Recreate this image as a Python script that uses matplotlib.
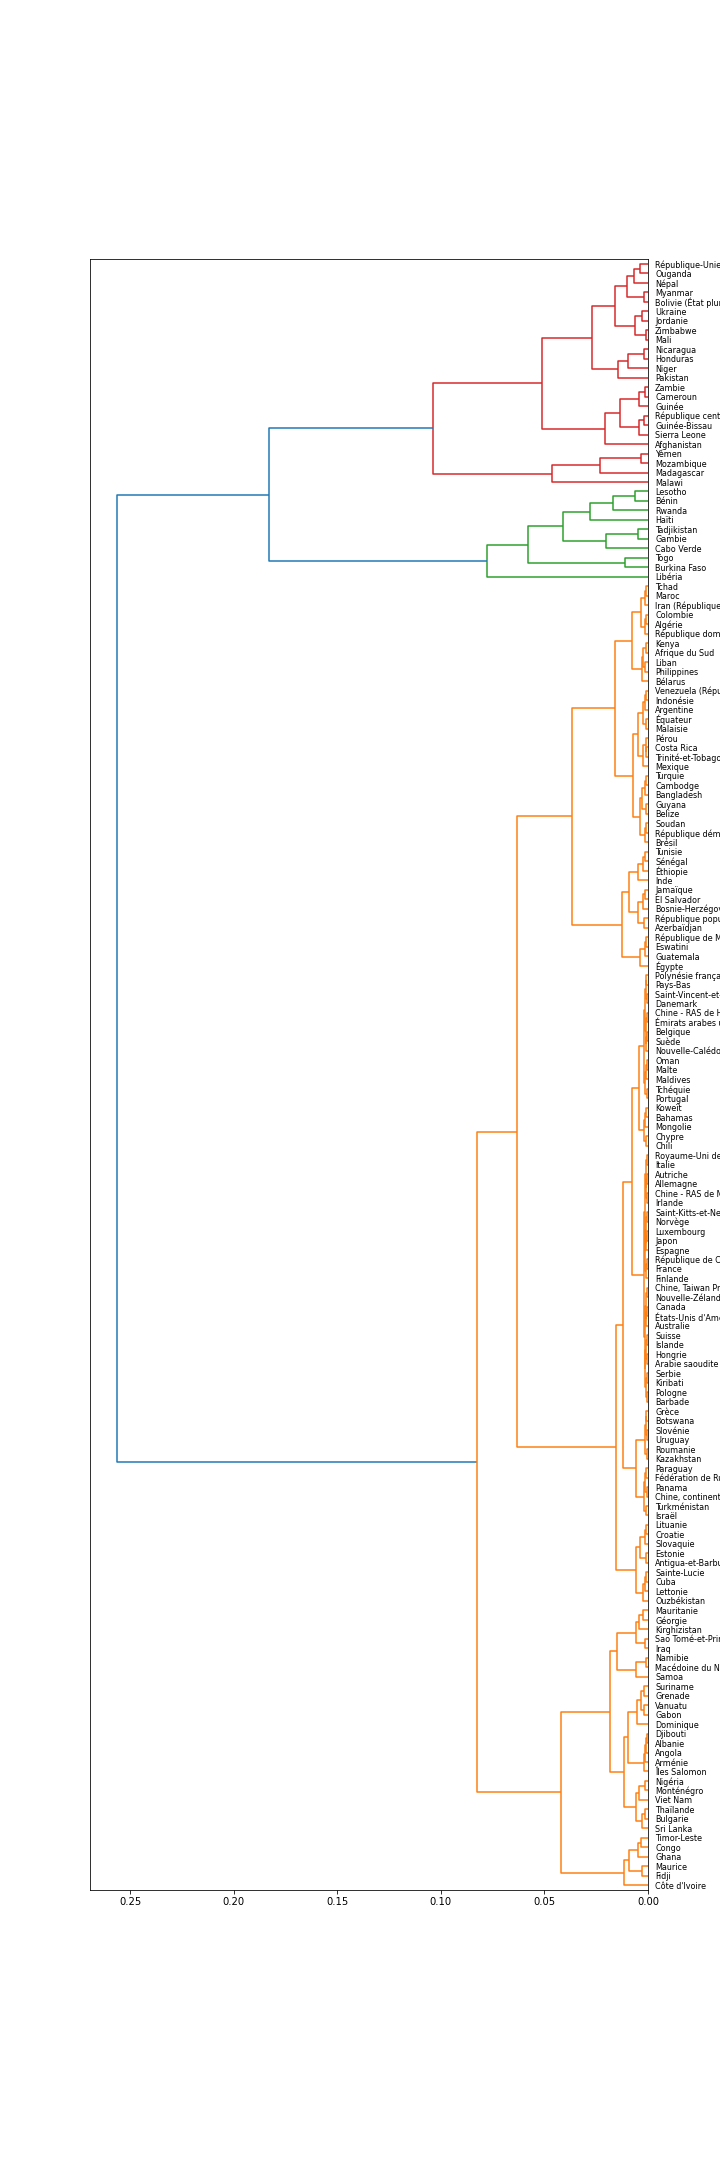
import numpy as np
import matplotlib
matplotlib.use("Agg")
import matplotlib.pyplot as plt
from matplotlib.collections import LineCollection

# leaves, top to bottom as they appear on the chart
labels = [
    "République-Unie de Tanzanie", "Ouganda", "Népal", "Myanmar",
    "Bolivie (État plurinational de)", "Ukraine", "Jordanie", "Zimbabwe", "Mali",
    "Nicaragua", "Honduras", "Niger", "Pakistan", "Zambie", "Cameroun", "Guinée",
    "République centrafricaine", "Guinée-Bissau", "Sierra Leone", "Afghanistan",
    "Yémen", "Mozambique", "Madagascar", "Malawi",
    "Lesotho", "Bénin", "Rwanda", "Haïti", "Tadjikistan", "Gambie", "Cabo Verde",
    "Togo", "Burkina Faso", "Libéria",
    "Tchad", "Maroc", "Iran (République islamique d')", "Colombie", "Algérie",
    "République dominicaine", "Kenya", "Afrique du Sud", "Liban", "Philippines",
    "Bélarus", "Venezuela (République bolivarienne du)", "Indonésie", "Argentine",
    "Équateur", "Malaisie", "Pérou", "Costa Rica", "Trinité-et-Tobago", "Mexique",
    "Turquie", "Cambodge", "Bangladesh", "Guyana", "Belize", "Soudan",
    "République démocratique du Congo", "Brésil", "Tunisie", "Sénégal", "Éthiopie",
    "Inde", "Jamaïque", "El Salvador", "Bosnie-Herzégovine",
    "République populaire démocratique de Corée", "Azerbaïdjan",
    "République de Moldova", "Eswatini", "Guatemala", "Égypte",
    "Polynésie française", "Pays-Bas", "Saint-Vincent-et-les Grenadines", "Danemark",
    "Chine - RAS de Hong Kong", "Émirats arabes unis", "Belgique", "Suède",
    "Nouvelle-Calédonie", "Oman", "Malte", "Maldives", "Tchéquie", "Portugal",
    "Koweït", "Bahamas", "Mongolie", "Chypre", "Chili",
    "Royaume-Uni de Grande-Bretagne et d'Irlande du Nord", "Italie", "Autriche",
    "Allemagne", "Chine - RAS de Macao", "Irlande", "Saint-Kitts-et-Nevis", "Norvège",
    "Luxembourg", "Japon", "Espagne", "République de Corée", "France", "Finlande",
    "Chine, Taiwan Province de Chine", "Nouvelle-Zélande", "Canada",
    "États-Unis d'Amérique", "Australie", "Suisse", "Islande", "Hongrie",
    "Arabie saoudite", "Serbie", "Kiribati", "Pologne", "Barbade", "Grèce",
    "Botswana", "Slovénie", "Uruguay", "Roumanie", "Kazakhstan", "Paraguay",
    "Fédération de Russie", "Panama", "Chine, continentale", "Turkménistan", "Israël",
    "Lituanie", "Croatie", "Slovaquie", "Estonie", "Antigua-et-Barbuda",
    "Sainte-Lucie", "Cuba", "Lettonie", "Ouzbékistan", "Mauritanie", "Géorgie",
    "Kirghizistan", "Sao Tomé-et-Principe", "Iraq", "Namibie", "Macédoine du Nord",
    "Samoa", "Suriname", "Grenade", "Vanuatu", "Gabon", "Dominique", "Djibouti",
    "Albanie", "Angola", "Arménie", "Îles Salomon", "Nigéria", "Monténégro",
    "Viet Nam", "Thaïlande", "Bulgarie", "Sri Lanka", "Timor-Leste", "Congo",
    "Ghana", "Maurice", "Fidji", "Côte d'Ivoire",
]

# height at which each leaf joins the next one below it (cophenetic distance
# between neighbours); the tree is rebuilt from these
merge_heights = [
    # red group
    0.0037, 0.0069, 0.0102, 0.0021, 0.0158, 0.0027, 0.0061, 0.0010, 0.0271, 0.0021,
    0.0097, 0.0145, 0.0510, 0.0013, 0.0042, 0.0134, 0.0021, 0.0045, 0.0206, 0.1038,
    0.0034, 0.0230, 0.0461, 0.1830,
    # green group
    0.0061, 0.0168, 0.0280, 0.0409, 0.0047, 0.0201, 0.0580, 0.0113, 0.0779, 0.2565,
    # orange group
    0.0010, 0.0016, 0.0033, 0.0010, 0.0016, 0.0075, 0.0012, 0.0023, 0.0015, 0.0030,
    0.0158, 0.0010, 0.0016, 0.0024, 0.0012, 0.0047, 0.0012, 0.0008, 0.0022, 0.0074,
    0.0010, 0.0016, 0.0027, 0.0010, 0.0039, 0.0010, 0.0016, 0.0366,
    0.0016, 0.0023, 0.0047, 0.0090, 0.0014, 0.0023, 0.0046, 0.0017, 0.0127, 0.0008,
    0.0016, 0.0037, 0.0630,
    0.0008, 0.0012, 0.0006, 0.0016, 0.0007, 0.0011, 0.0005, 0.0009, 0.0020, 0.0006,
    0.0010, 0.0014, 0.0007, 0.0042, 0.0009, 0.0013, 0.0020, 0.0008, 0.0077,
    0.0006, 0.0012, 0.0005, 0.0009, 0.0004, 0.0015, 0.0007, 0.0011, 0.0005, 0.0009,
    0.0013, 0.0006, 0.0010, 0.0019, 0.0007, 0.0012, 0.0005, 0.0009, 0.0015, 0.0006,
    0.0010, 0.0004, 0.0013, 0.0007, 0.0011, 0.0005, 0.0122,
    0.0008, 0.0012, 0.0006, 0.0014, 0.0007, 0.0058, 0.0008, 0.0015, 0.0007, 0.0021,
    0.0010, 0.0153, 0.0010, 0.0016, 0.0037, 0.0010, 0.0058, 0.0010, 0.0016, 0.0026,
    0.0826,
    0.0026, 0.0042, 0.0060, 0.0016, 0.0150, 0.0010, 0.0057, 0.0184, 0.0020, 0.0034,
    0.0018, 0.0053, 0.0095, 0.0006, 0.0011, 0.0016, 0.0021, 0.0115, 0.0016, 0.0042,
    0.0058, 0.0016, 0.0027, 0.0421, 0.0034, 0.0047, 0.0090, 0.0027, 0.0114,
]

n = len(labels)
gaps = np.array(merge_heights)
leaf_y = [10 * (n - 1 - i) + 5 for i in range(n)]   # scipy-style: first leaf at bottom


def build(lo, hi, links):
    if lo == hi:
        return leaf_y[lo], 0.0
    k = lo + int(np.argmax(gaps[lo:hi]))
    ya, ha = build(lo, k, links)
    yb, hb = build(k + 1, hi, links)
    h = gaps[k]
    links.append((lo, h, [(ha, ya), (h, ya), (h, yb), (hb, yb)]))
    return (ya + yb) / 2, h


links = []
build(0, n - 1, links)

# clusters below 0.7*max, coloured C1, C2, ... starting from the bottom leaf
thr = 0.7 * gaps.max()
cuts = [-1] + [i for i in range(n - 1) if gaps[i] > thr] + [n - 1]
segs = [(cuts[j] + 1, cuts[j + 1]) for j in range(len(cuts) - 1)]
segs = [s for s in segs if s[1] > s[0]]
seg_color = {}
for c, s in enumerate(sorted(segs, key=lambda s: -s[1])):
    seg_color[s] = "C%d" % (c + 1)


def link_color(lo, h):
    if h > thr:
        return "C0"
    for s, col in seg_color.items():
        if s[0] <= lo <= s[1]:
            return col
    return "C0"


by_color = {}
for lo, h, pts in links:
    by_color.setdefault(link_color(lo, h), []).append(pts)

fig = plt.figure(figsize=(10, 30), dpi=72)
fig.subplots_adjust(left=0.125, right=0.9, top=0.88, bottom=0.125)
ax = fig.add_subplot(111)
for col, segs_ in by_color.items():
    ax.add_collection(LineCollection(segs_, colors=(col,)))

ax.set_ylim(0, 10 * n)
ax.set_xlim(gaps.max() * 1.05, 0)
ax.set_yticks(leaf_y)
ax.set_yticklabels(labels, fontsize=8)
ax.yaxis.set_ticks_position("right")
for line in ax.get_yticklines():
    line.set_visible(False)

fig.savefig("out.png", dpi=72)
